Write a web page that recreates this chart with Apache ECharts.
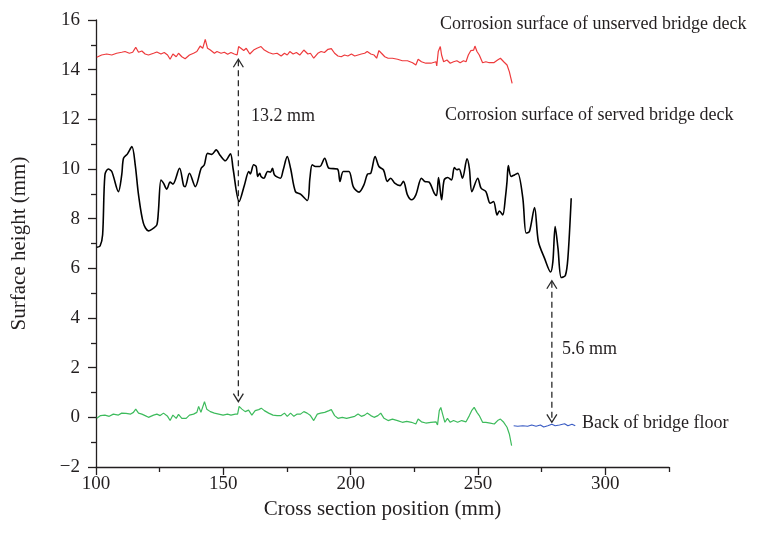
<!DOCTYPE html>
<html>
<head>
<meta charset="utf-8">
<script src="https://cdn.jsdelivr.net/npm/echarts@6/dist/echarts.min.js"></script>
<style>
  html, body { margin: 0; padding: 0; background: #fff; }
  #chart { width: 762px; height: 545px; }
</style>
</head>
<body>
<div id="chart"></div>
<script>
// profile data: [cross section position (mm), surface height (mm)]
const unservedDeck = [
  [100.3,14.50],[102.2,14.59],[104.2,14.63],[106.2,14.59],[108.1,14.66],[110.1,14.70],[111.4,14.73],
  [113.1,14.66],[114.4,14.70],[115.6,14.90],[116.7,14.70],[118.0,14.75],[119.3,14.63],[120.6,14.59],
  [122.6,14.66],[123.9,14.71],[125.5,14.63],[126.8,14.69],[128.1,14.59],[129.1,14.42],[130.2,14.63],
  [131.5,14.52],[132.4,14.66],[133.7,14.52],[135.0,14.44],[136.7,14.59],[138.3,14.66],[139.6,14.73],
  [140.9,14.95],[141.9,14.86],[142.9,15.22],[143.8,14.86],[144.9,14.79],[146.5,14.66],[147.5,14.73],
  [149.1,14.66],[150.4,14.70],[151.7,14.62],[153.0,14.69],[154.3,14.63],[155.4,14.59],[156.0,14.93],
  [156.9,14.86],[158.0,14.77],[159.0,14.86],[160.4,14.63],[161.9,14.79],[163.2,14.86],[164.8,14.93],
  [166.1,14.79],[167.8,14.69],[169.5,14.63],[171.1,14.66],[172.7,14.55],[174.0,14.66],[175.1,14.59],
  [176.1,14.73],[177.4,14.63],[178.7,14.69],[180.0,14.59],[181.6,14.79],[183.2,14.63],[184.2,14.66],
  [185.5,14.46],[187.1,14.66],[188.4,14.73],[189.7,14.69],[191.1,14.82],[192.4,14.85],[193.7,14.66],
  [195.0,14.55],[196.3,14.52],[197.6,14.59],[198.9,14.55],[200.3,14.63],[201.6,14.55],[202.9,14.59],
  [204.2,14.63],[205.5,14.66],[206.5,14.73],[207.9,14.63],[209.2,14.59],[210.2,14.46],[211.1,14.77],
  [212.1,14.66],[213.4,14.52],[214.7,14.46],[216.4,14.46],[218.4,14.42],[220.3,14.36],[222.3,14.36],
  [224.3,14.28],[225.6,14.19],[226.5,14.42],[227.8,14.32],[229.5,14.26],[231.5,14.26],[233.5,14.32],
  [233.8,14.15],[234.4,14.73],[235.2,14.93],[235.7,14.59],[236.5,14.32],[237.8,14.39],[239.1,14.26],
  [240.4,14.32],[241.7,14.36],[243.0,14.28],[244.3,14.36],[245.3,14.32],[246.2,14.59],[247.2,14.77],
  [248.3,14.79],[248.8,14.95],[249.6,14.73],[250.5,14.59],[251.8,14.28],[253.1,14.32],[254.4,14.28],
  [256.2,14.28],[257.7,14.39],[258.8,14.46],[260.1,14.32],[261.4,14.19],[262.3,13.92],[263.4,13.45]
];

const servedDeck = [
  [100.3,6.85],[101.6,6.90],[102.6,7.35],[103.5,9.76],[104.8,10.00],[106.2,9.90],[108.8,9.09],
  [110.1,9.76],[110.8,10.43],[112.3,10.60],[114.1,10.90],[115.4,10.17],[116.7,8.96],[118.6,7.82],
  [120.6,7.51],[122.6,7.62],[123.9,7.75],[124.5,8.29],[125.5,9.56],[126.5,9.43],[127.8,9.19],
  [129.1,9.47],[130.2,9.39],[132.8,10.03],[134.4,9.33],[135.0,9.29],[136.7,9.83],[139.0,9.29],
  [141.3,10.03],[142.5,10.16],[143.8,10.63],[145.5,10.59],[147.2,10.77],[148.8,10.54],[150.8,10.33],
  [152.8,10.61],[153.8,10.03],[156.2,8.69],[158.3,9.36],[160.0,9.90],[160.6,9.80],[161.9,10.17],
  [162.9,10.10],[163.5,9.70],[164.3,9.83],[164.8,9.70],[165.9,9.63],[167.4,9.90],[168.5,9.87],
  [169.3,10.03],[170.1,9.76],[172.4,9.63],[173.5,9.96],[175.1,10.50],[176.4,10.03],[178.3,9.09],
  [180.3,8.99],[183.0,8.73],[184.0,9.63],[184.9,10.17],[186.2,10.10],[187.9,10.10],[189.8,10.43],
  [191.5,10.03],[194.8,10.00],[195.8,9.50],[197.1,9.90],[199.3,9.90],[201.1,9.27],[203.3,9.07],
  [205.2,9.36],[206.6,9.79],[207.9,9.83],[209.6,10.50],[211.1,10.10],[212.9,9.96],[214.4,9.50],
  [215.7,9.63],[217.3,9.43],[219.4,9.33],[220.7,9.50],[222.3,8.96],[223.9,8.76],[225.6,8.96],
  [227.8,9.63],[229.1,9.50],[230.8,9.47],[232.8,9.03],[233.7,8.93],[234.5,9.66],[235.7,8.76],
  [236.7,9.56],[238.1,9.66],[239.6,9.56],[240.7,10.06],[241.7,9.97],[242.6,10.00],[243.9,9.63],
  [245.7,10.41],[246.6,10.03],[247.6,9.09],[249.9,9.63],[251.2,9.23],[253.1,9.09],[254.8,8.62],
  [256.1,8.69],[257.5,8.15],[258.4,8.31],[259.7,8.15],[260.8,8.89],[261.4,9.50],[261.9,10.14],
  [263.0,9.70],[264.3,9.76],[265.6,9.83],[267.6,8.83],[268.9,7.42],[270.2,7.48],[272.2,8.45],
  [273.7,7.08],[276.1,6.41],[278.5,5.85],[279.4,6.27],[280.3,7.68],[281.4,6.81],[282.7,5.63],
  [284.3,5.71],[285.3,6.41],[286.6,8.82]
];

const deckBottom = [
  [100.3,-0.04],[101.8,0.07],[103.5,0.09],[105.2,0.04],[106.8,0.13],[108.8,0.09],[110.1,0.17],
  [111.8,0.16],[113.6,0.13],[114.7,0.20],[115.6,0.33],[116.7,0.17],[118.0,0.13],[119.3,0.07],
  [120.6,0.00],[122.6,0.09],[123.9,0.13],[125.2,0.07],[126.5,0.17],[128.1,0.04],[129.1,-0.13],
  [130.2,0.09],[131.5,-0.04],[132.4,0.12],[133.7,-0.04],[135.4,-0.04],[136.7,0.09],[138.3,0.13],
  [139.6,0.20],[140.3,0.44],[141.2,0.20],[142.6,0.63],[143.5,0.33],[144.9,0.23],[146.5,0.17],
  [148.2,0.13],[149.9,0.09],[151.6,0.13],[153.0,0.09],[154.7,0.13],[155.6,0.13],[156.2,0.44],
  [157.3,0.33],[158.6,0.23],[159.9,0.29],[161.2,0.09],[162.5,0.27],[163.9,0.31],[164.9,0.37],
  [166.1,0.27],[167.8,0.17],[169.5,0.09],[171.1,0.07],[172.7,0.07],[174.0,0.17],[175.1,0.04],
  [176.4,0.17],[177.7,0.04],[179.0,0.13],[180.3,0.13],[181.6,0.23],[182.9,0.17],[184.2,0.07],
  [185.5,-0.13],[186.9,0.13],[188.2,0.17],[189.8,0.20],[191.5,0.27],[192.4,0.31],[193.7,0.07],
  [195.0,-0.04],[196.7,0.00],[198.4,-0.04],[200.0,0.00],[201.6,0.04],[202.9,0.13],[204.2,0.04],
  [205.5,0.09],[206.5,0.17],[207.9,0.07],[209.2,0.00],[210.7,0.07],[211.8,0.17],[213.1,-0.04],
  [214.7,-0.13],[216.4,-0.07],[218.4,-0.13],[220.3,-0.20],[222.0,-0.16],[223.9,-0.20],[225.6,-0.27],
  [226.5,-0.07],[227.8,-0.18],[229.5,-0.23],[231.5,-0.20],[233.5,-0.18],[234.1,-0.31],[234.8,0.27],
  [235.4,0.40],[236.1,0.13],[237.0,-0.20],[238.0,-0.04],[239.1,-0.20],[240.4,-0.13],[242.0,-0.20],
  [243.6,-0.13],[245.3,-0.18],[246.6,0.07],[247.5,0.27],[248.5,0.40],[249.6,0.20],[250.5,0.07],
  [251.8,-0.20],[253.1,-0.20],[254.8,-0.23],[256.4,-0.27],[257.7,-0.13],[258.8,-0.07],[260.1,-0.20],
  [261.4,-0.40],[262.3,-0.67],[263.2,-1.14]
];

const floorBack = [
  [264.0,-0.34],[265.6,-0.36],[267.6,-0.34],[269.5,-0.36],[271.1,-0.31],[272.8,-0.36],[274.5,-0.31],
  [275.8,-0.39],[277.4,-0.34],[279.0,-0.28],[280.3,-0.34],[282.0,-0.31],[284.0,-0.26],[285.3,-0.34],
  [286.9,-0.28],[288.2,-0.34]
];

// dimension arrows: position, upper tip, lower tip
const arrowX = [155.9, 279.0];
const arrowTop = [14.42, 5.50];
const arrowBottom = [0.63, -0.20];

const xMajorTicks = [100, 150, 200, 250, 300];
const xMinorTicks = [125, 175, 225, 275, 325];

const FONT = '"Liberation Serif", "DejaVu Serif", serif';
const TXT = '#231f20';

var myChart = echarts.init(document.getElementById('chart'));

function arrowItem(params, api) {
  const x = api.value(0);
  const p1 = api.coord([x, api.value(1)]);
  const p2 = api.coord([x, api.value(2)]);
  const s = { stroke: '#2a2a2a', lineWidth: 1.3, fill: null };
  return {
    type: 'group',
    children: [
      { type: 'line', shape: { x1: p1[0], y1: p1[1] + 1, x2: p2[0], y2: p2[1] - 1 },
        style: Object.assign({ lineDash: [6, 4] }, s) },
      { type: 'polyline', shape: { points: [[p1[0] - 5, p1[1] + 8], [p1[0], p1[1]], [p1[0] + 5, p1[1] + 8]] }, style: s },
      { type: 'polyline', shape: { points: [[p2[0] - 5, p2[1] - 8], [p2[0], p2[1]], [p2[0] + 5, p2[1] - 8]] }, style: s }
    ]
  };
}

const option = {
  animation: false,
  backgroundColor: '#fff',
  grid: { left: 96, right: 93, top: 20, bottom: 78 },
  xAxis: [
    {
      type: 'value', min: 100, max: 325,
      name: 'Cross section position (mm)', nameLocation: 'middle', nameGap: 32,
      nameTextStyle: { fontFamily: FONT, fontSize: 21, color: TXT },
      axisLine: { onZero: false, lineStyle: { color: TXT, width: 1.3 } },
      axisTick: { show: true, length: 8, customValues: xMajorTicks, lineStyle: { color: TXT, width: 1.3 } },
      axisLabel: { customValues: xMajorTicks, margin: 8, fontFamily: FONT, fontSize: 19, color: TXT },
      splitLine: { show: false }
    },
    {
      type: 'value', min: 100, max: 325, position: 'bottom',
      axisLine: { show: false, onZero: false },
      axisTick: { show: true, length: 5, customValues: xMinorTicks, lineStyle: { color: TXT, width: 1.3 } },
      axisLabel: { show: false },
      splitLine: { show: false }
    }
  ],
  yAxis: {
    type: 'value', min: -2, max: 16, interval: 2,
    name: 'Surface height (mm)', nameLocation: 'middle', nameGap: 66,
    nameTextStyle: { fontFamily: FONT, fontSize: 21, color: TXT },
    axisLine: { show: true, onZero: false, lineStyle: { color: TXT, width: 1.3 } },
    axisTick: { show: true, length: 8, lineStyle: { color: TXT, width: 1.3 } },
    minorTick: { show: true, splitNumber: 2, length: 5, lineStyle: { color: TXT, width: 1.3 } },
    axisLabel: {
      margin: 16, fontFamily: FONT, fontSize: 19, color: TXT,
      formatter: v => (v < 0 ? '\u2212' + Math.abs(v) : String(v))
    },
    splitLine: { show: false }
  },
  series: [
    { name: 'unserved', type: 'line', data: unservedDeck, showSymbol: false,
      lineStyle: { color: '#ee3a3c', width: 1.2 } },
    { name: 'served', type: 'line', data: servedDeck, showSymbol: false, smooth: 0.3,
      lineStyle: { color: '#000', width: 1.6 } },
    { name: 'bottom', type: 'line', data: deckBottom, showSymbol: false,
      lineStyle: { color: '#3dbb5c', width: 1.2 } },
    { name: 'floor', type: 'line', data: floorBack, showSymbol: false,
      lineStyle: { color: '#3a5cc4', width: 1.2 } },
    { name: 'arrows', type: 'custom', renderItem: arrowItem,
      encode: { x: 0, y: [1, 2] },
      data: arrowX.map((x, i) => [x, arrowTop[i], arrowBottom[i]]) }
  ],
  graphic: [
    { type: 'text', left: 440, top: 15, style: { text: 'Corrosion surface of unserved bridge deck', font: '18px ' + FONT, fill: TXT } },
    { type: 'text', left: 445, top: 106, style: { text: 'Corrosion surface of served bridge deck', font: '18px ' + FONT, fill: TXT } },
    { type: 'text', left: 251, top: 107, style: { text: '13.2 mm', font: '18px ' + FONT, fill: TXT } },
    { type: 'text', left: 562, top: 340, style: { text: '5.6 mm', font: '18px ' + FONT, fill: TXT } },
    { type: 'text', left: 582, top: 414, style: { text: 'Back of bridge floor', font: '18px ' + FONT, fill: TXT } }
  ]
};

option && myChart.setOption(option);
</script>
</body>
</html>
